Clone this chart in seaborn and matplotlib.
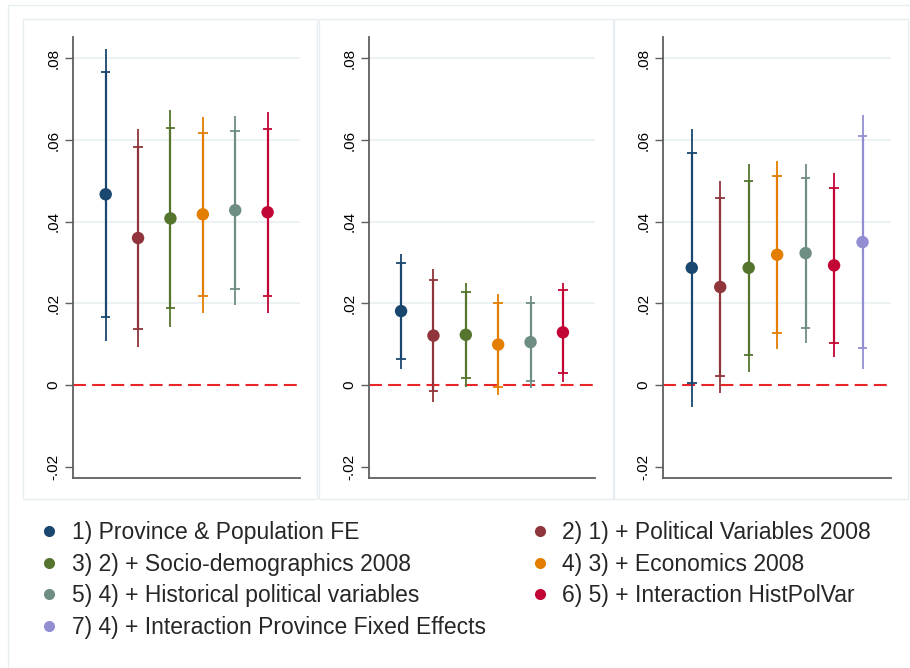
import numpy as np
import pandas as pd
import matplotlib
matplotlib.use("Agg")
import matplotlib.pyplot as plt
from matplotlib.patches import Rectangle
from matplotlib.lines import Line2D
import seaborn as sns

# ---------------- data ----------------
labels = [
    "1) Province & Population FE",
    "2) 1) + Political Variables 2008",
    "3) 2) + Socio-demographics 2008",
    "4) 3) + Economics 2008",
    "5) 4) + Historical political variables",
    "6) 5) + Interaction HistPolVar",
    "7) 4) + Interaction Province Fixed Effects",
]
colors = ["#1a476f", "#90353b", "#55752f", "#e37e00", "#6e8e84", "#c10534", "#938dd2"]

est1 = [0.0467, 0.0360, 0.0408, 0.0418, 0.0428, 0.0423]
lo95_1 = [0.0109, 0.0094, 0.0143, 0.0177, 0.0196, 0.0177]
hi95_1 = [0.0824, 0.0627, 0.0674, 0.0657, 0.0660, 0.0669]
lo90_1 = [0.0167, 0.0137, 0.0188, 0.0218, 0.0235, 0.0217]
hi90_1 = [0.0766, 0.0583, 0.0630, 0.0617, 0.0623, 0.0628]

est2 = [0.0181, 0.0121, 0.0123, 0.0099, 0.0105, 0.0129]
lo95_2 = [0.0039, -0.0041, -0.0004, -0.0025, -0.0007, 0.0008]
hi95_2 = [0.0322, 0.0283, 0.0249, 0.0222, 0.0219, 0.0251]
lo90_2 = [0.0063, -0.0015, 0.0016, -0.0004, 0.0011, 0.0029]
hi90_2 = [0.0300, 0.0257, 0.0229, 0.0202, 0.0200, 0.0232]

est3 = [0.0287, 0.0240, 0.0287, 0.0319, 0.0323, 0.0293, 0.0350]
lo95_3 = [-0.0053, -0.0020, 0.0032, 0.0089, 0.0103, 0.0068, 0.0039]
hi95_3 = [0.0626, 0.0500, 0.0541, 0.0549, 0.0542, 0.0518, 0.0662]
lo90_3 = [0.0004, 0.0023, 0.0074, 0.0127, 0.0140, 0.0104, 0.0091]
hi90_3 = [0.0569, 0.0458, 0.0500, 0.0512, 0.0506, 0.0482, 0.0611]

yticks = [-0.02, 0, 0.02, 0.04, 0.06, 0.08]
ytick_labels = ["-.02", "0", ".02", ".04", ".06", ".08"]
grid_vals = [0.02, 0.04, 0.06, 0.08]

panels = [
    (est1, lo95_1, hi95_1, lo90_1, hi90_1),
    (est2, lo95_2, hi95_2, lo90_2, hi90_2),
    (est3, lo95_3, hi95_3, lo90_3, hi90_3),
]

# ---------------- style ----------------
sns.set_theme(style="white")
plt.rcParams["font.family"] = ["Liberation Sans", "DejaVu Sans"]

W, H = 910, 668
fig = plt.figure(figsize=(W / 100, H / 100), dpi=100)
fig.patch.set_facecolor("white")

def rect(l, r, t, b):
    return [l / W, 1 - b / H, (r - l) / W, (b - t) / H]

border_col = "#e6eef0"
# outer frame
fig.patches.append(Rectangle((8 / W, -0.05), 1.1, 1 - 5 / H + 0.05, transform=fig.transFigure,
                             fill=False, edgecolor=border_col, lw=1.0, zorder=0))
# panel frames
for (l, r) in [(23, 317), (319, 613), (614, 908)]:
    fig.patches.append(Rectangle((l / W, 1 - 499 / H), (r - l) / W, (499 - 19) / H,
                                 transform=fig.transFigure, fill=False,
                                 edgecolor=border_col, lw=1.0, zorder=0))

ax_lr = [(73.3, 300), (368.7, 595.3), (663.3, 891)]
axis_col = "#5f5f5f"

for k, (est, lo95, hi95, lo90, hi90) in enumerate(panels):
    l, r = ax_lr[k]
    ax = fig.add_axes(rect(l, r, 36.7, 477.7))
    ax.set_facecolor("none")
    n = len(est)
    pos = np.arange(1, n + 1)
    df = pd.DataFrame({"pos": pos, "est": est, "model": labels[:n]})
    cols = colors[:n]

    for g in grid_vals:
        ax.axhline(g, color="#eaf1f3", lw=1.3, zorder=0)
    ax.axhline(0, color="#e8262a", lw=1.5, ls=(0, (6.2, 3.0)), zorder=1)

    ax.vlines(pos, lo95, hi95, colors=cols, lw=1.3, zorder=2)
    ax.vlines(pos, lo90, hi90, colors=cols, lw=1.6, zorder=2)
    ax.scatter(pos, lo90, marker="_", s=48, c=cols, linewidths=1.3, zorder=3)
    ax.scatter(pos, hi90, marker="_", s=48, c=cols, linewidths=1.3, zorder=3)
    sns.scatterplot(data=df, x="pos", y="est", hue="model", palette=cols, s=80,
                    edgecolor="none", linewidth=0, legend=False, ax=ax, zorder=4)

    ax.set_xlim(0, n + 1)
    ax.set_ylim(-0.0227, 0.0853)
    ax.set_xticks([])
    ax.set_yticks(yticks)
    ax.set_yticklabels(ytick_labels, rotation=90, fontsize=11, color="black")
    for t in ax.get_yticklabels():
        t.set_va("center")
    ax.tick_params(axis="y", direction="out", length=6, width=1.0, color=axis_col,
                   pad=3, left=True)
    ax.set_xlabel("")
    ax.set_ylabel("")
    for s in ["top", "right"]:
        ax.spines[s].set_visible(False)
    for s in ["left", "bottom"]:
        ax.spines[s].set_color(axis_col)
        ax.spines[s].set_linewidth(1.3)

# ---------------- legend ----------------
handles = [Line2D([], [], marker="o", ls="none", markersize=8, markerfacecolor=c,
                  markeredgecolor="none") for c in colors]
order = [0, 2, 4, 6, 1, 3, 5]
fs = 16.5
fig.legend([handles[i] for i in order], [labels[i] for i in order],
           loc="upper left", bbox_to_anchor=(42.1 / W, 1 - 521.5 / H),
           ncol=2, frameon=False, fontsize=fs, handlelength=0.6,
           handletextpad=0.70, columnspacing=2.04, labelspacing=0.37,
           borderpad=0, borderaxespad=0)

fig.savefig("out.png", dpi=100)
